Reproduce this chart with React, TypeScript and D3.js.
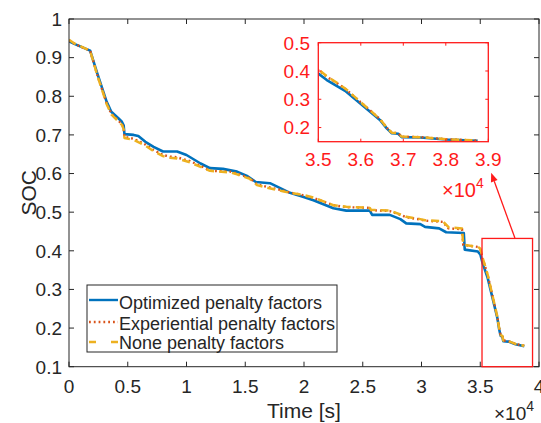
import React from "react";
import * as d3 from "d3";

const timeBlue = [0, 500, 1800, 2400, 3200, 3600, 4200, 4500, 4650, 4720, 5500, 5900, 6500, 7200, 8000, 9200, 10000, 11200, 12000, 13100, 14300, 15200, 15900, 17100, 18200, 18800, 19900, 20800, 22500, 23600, 25600, 25800, 27300, 28200, 28700, 29900, 30300, 31500, 32100, 33600, 33680, 34800, 35000, 35200, 35470, 35630, 36450, 36610, 36730, 36880, 36960, 37400, 38000, 38750];
const socBlue = [0.942, 0.935, 0.918, 0.86, 0.786, 0.76, 0.743, 0.734, 0.725, 0.702, 0.7, 0.697, 0.682, 0.669, 0.657, 0.657, 0.648, 0.626, 0.614, 0.612, 0.605, 0.593, 0.578, 0.575, 0.559, 0.55, 0.54, 0.531, 0.51, 0.504, 0.504, 0.493, 0.493, 0.482, 0.471, 0.469, 0.462, 0.458, 0.448, 0.446, 0.403, 0.398, 0.391, 0.368, 0.344, 0.33, 0.227, 0.197, 0.18, 0.178, 0.166, 0.165, 0.158, 0.153];

const timeOrange = [0, 500, 1800, 2400, 3200, 3600, 4200, 4500, 4650, 4720, 5500, 6500, 7200, 8000, 8600, 9200, 10300, 11200, 12000, 13700, 14300, 15400, 16000, 16800, 18200, 18800, 19900, 20800, 22500, 23600, 25600, 25700, 27300, 28200, 28700, 29900, 30300, 31800, 32300, 33450, 33550, 34800, 35000, 35200, 35450, 35650, 36450, 36620, 36730, 36880, 36960, 37400, 38000, 38750];
const socOrange = [0.944, 0.935, 0.918, 0.856, 0.782, 0.755, 0.737, 0.728, 0.718, 0.695, 0.69, 0.675, 0.661, 0.648, 0.644, 0.642, 0.632, 0.62, 0.607, 0.605, 0.6, 0.588, 0.572, 0.566, 0.556, 0.551, 0.544, 0.537, 0.518, 0.513, 0.511, 0.505, 0.503, 0.493, 0.487, 0.481, 0.478, 0.475, 0.458, 0.456, 0.415, 0.41, 0.404, 0.38, 0.356, 0.335, 0.23, 0.198, 0.182, 0.18, 0.168, 0.166, 0.159, 0.154];

const timeYellow = [0, 500, 1800, 2400, 3200, 3600, 4200, 4500, 4650, 4720, 5500, 6500, 7200, 8000, 8600, 9200, 10300, 11200, 12000, 13700, 14300, 15400, 16000, 16800, 18200, 18800, 19900, 20800, 22500, 23600, 25600, 25700, 27300, 28200, 28700, 29900, 30300, 31800, 32300, 33450, 33550, 34800, 35000, 35200, 35450, 35650, 36450, 36620, 36730, 36880, 36960, 37400, 38000, 38750];
const socYellow = [0.946, 0.936, 0.918, 0.855, 0.78, 0.753, 0.735, 0.726, 0.715, 0.692, 0.687, 0.672, 0.658, 0.645, 0.641, 0.639, 0.629, 0.617, 0.607, 0.603, 0.598, 0.586, 0.57, 0.564, 0.554, 0.55, 0.545, 0.538, 0.518, 0.514, 0.511, 0.506, 0.504, 0.494, 0.488, 0.482, 0.479, 0.477, 0.461, 0.458, 0.416, 0.41, 0.406, 0.382, 0.357, 0.336, 0.23, 0.198, 0.182, 0.18, 0.168, 0.166, 0.159, 0.154];

const seriesNames = ["Optimized penalty factors", "Experiential penalty factors", "None penalty factors"];
const seriesColors = ["#0072BD", "#D95319", "#EDB120"];

const xTicks = [0, 5000, 10000, 15000, 20000, 25000, 30000, 35000, 40000];
const xTickLabels = ["0", "0.5", "1", "1.5", "2", "2.5", "3", "3.5", "4"];
const yTicks = [0.1, 0.2, 0.3, 0.4, 0.5, 0.6, 0.7, 0.8, 0.9, 1];
const yTickLabels = ["0.1", "0.2", "0.3", "0.4", "0.5", "0.6", "0.7", "0.8", "0.9", "1"];

const insetXTicks = [35000, 36000, 37000, 38000, 39000];
const insetXTickLabels = ["3.5", "3.6", "3.7", "3.8", "3.9"];
const insetYTicks = [0.2, 0.3, 0.4, 0.5];
const insetYTickLabels = ["0.2", "0.3", "0.4", "0.5"];

// zoom rectangle and arrow, in data units of the main axes
const zoomRect = [35150, 39450, 0.1, 0.432];
const arrowFrom = [37950, 0.433];
const arrowTo = [35930, 0.602];

const FONT = "'Liberation Sans', Arial, Helvetica, sans-serif";
const TXT = "#262626";
const RED = "#ff1a1a";

export default function App() {
  const W = 541, H = 423;
  const L = 69, R = 539, T = 19, B = 366.7;
  const x = d3.scaleLinear().domain([0, 40000]).range([L, R]);
  const y = d3.scaleLinear().domain([0.1, 1]).range([B, T]);

  const iL = 318.3, iR = 488.3, iT = 42.7, iB = 141.7;
  const ix = d3.scaleLinear().domain([35000, 39000]).range([iL, iR]);
  const iy = d3.scaleLinear().domain([0.15, 0.5]).range([iB, iT]);

  const series = [
    { t: timeBlue, s: socBlue, dash: undefined as string | undefined, w: 2.6 },
    { t: timeOrange, s: socOrange, dash: "1.8 3", w: 2.4 },
    { t: timeYellow, s: socYellow, dash: "8 5", w: 2.5 },
  ];

  const mainLine = d3.line<[number, number]>().x((d) => x(d[0])).y((d) => y(d[1]));
  const insetLine = d3.line<[number, number]>().x((d) => ix(d[0])).y((d) => iy(d[1]));
  const pts = (t: number[], s: number[]) => t.map((v, i) => [v, s[i]] as [number, number]);

  const tk = 5;
  const itk = 3;

  const ax1 = x(arrowFrom[0]), ay1 = y(arrowFrom[1]);
  const ax2 = x(arrowTo[0]), ay2 = y(arrowTo[1]);
  const ang = Math.atan2(ay2 - ay1, ax2 - ax1);
  const hl = 9, hw = 3.5;
  const hx = ax2 - hl * Math.cos(ang), hy = ay2 - hl * Math.sin(ang);
  const head = `M${ax2},${ay2}L${hx + hw * Math.sin(ang)},${hy - hw * Math.cos(ang)}L${hx - hw * Math.sin(ang)},${hy + hw * Math.cos(ang)}Z`;

  const legX = 87, legY = 285, legW = 250, legH = 67;
  const legRows = [300, 322, 342];
  const legBase = [309, 329.5, 349];

  return (
    <svg width={W} height={H} style={{ position: "absolute", left: 0, top: 0, background: "#fff" }} fontFamily={FONT}>
      <defs>
        <clipPath id="mainClip"><rect x={L} y={T} width={R - L} height={B - T} /></clipPath>
        <clipPath id="insetClip"><rect x={iL} y={iT} width={iR - iL} height={iB - iT} /></clipPath>
      </defs>
      <rect x={0} y={0} width={W} height={H} fill="#fff" />

      {/* main lines */}
      <g clipPath="url(#mainClip)">
        {series.map((sr, i) => (
          <path key={i} d={mainLine(pts(sr.t, sr.s)) || ""} fill="none" stroke={seriesColors[i]} strokeWidth={sr.w} strokeDasharray={sr.dash} strokeLinejoin="round" />
        ))}
      </g>

      {/* main axes box */}
      <rect x={L} y={T} width={R - L} height={B - T} fill="none" stroke="#262626" strokeWidth={1} />
      {xTicks.map((v, i) => (
        <g key={"xt" + i}>
          <line x1={x(v)} x2={x(v)} y1={B} y2={B - tk} stroke="#262626" />
          <line x1={x(v)} x2={x(v)} y1={T} y2={T + tk} stroke="#262626" />
          <text x={x(v)} y={393} fontSize={19} textAnchor="middle" fill={TXT}>{xTickLabels[i]}</text>
        </g>
      ))}
      {yTicks.map((v, i) => (
        <g key={"yt" + i}>
          <line x1={L} x2={L + tk} y1={y(v)} y2={y(v)} stroke="#262626" />
          <line x1={R} x2={R - tk} y1={y(v)} y2={y(v)} stroke="#262626" />
          <text x={62} y={y(v) + 6.8} fontSize={19} textAnchor="end" fill={TXT}>{yTickLabels[i]}</text>
        </g>
      ))}
      <text x={(L + R) / 2} y={418} fontSize={21} textAnchor="middle" fill={TXT}>Time [s]</text>
      <text transform={`translate(36,${(T + B) / 2}) rotate(-90)`} fontSize={21} textAnchor="middle" fill={TXT}>SOC</text>
      <text x={494} y={420} fontSize={19} fill={TXT}>
        <tspan>×10</tspan><tspan fontSize={14} dy={-9}>4</tspan>
      </text>

      {/* zoom rectangle and arrow */}
      <rect x={x(zoomRect[0])} y={y(zoomRect[3])} width={x(zoomRect[1]) - x(zoomRect[0])} height={y(zoomRect[2]) - y(zoomRect[3])} fill="none" stroke={RED} strokeWidth={1.3} />
      <line x1={ax1} y1={ay1} x2={hx} y2={hy} stroke={RED} strokeWidth={1.3} />
      <path d={head} fill={RED} />

      {/* legend */}
      <rect x={legX} y={legY} width={legW} height={legH} fill="#fff" stroke="#262626" strokeWidth={1} />
      {seriesNames.map((n, i) => (
        <g key={"lg" + i}>
          <line x1={89} x2={118} y1={legRows[i]} y2={legRows[i]} stroke={seriesColors[i]} strokeWidth={2.4} strokeDasharray={i === 0 ? undefined : i === 1 ? "1.8 3" : "7 15"} />
          <text x={119} y={legBase[i]} fontSize={18} fill={TXT}>{n}</text>
        </g>
      ))}

      {/* inset */}
      <rect x={iL} y={iT} width={iR - iL} height={iB - iT} fill="#fff" />
      <g clipPath="url(#insetClip)">
        {series.map((sr, i) => (
          <path key={i} d={insetLine(pts(sr.t, sr.s)) || ""} fill="none" stroke={seriesColors[i]} strokeWidth={sr.w} strokeDasharray={sr.dash} strokeLinejoin="round" />
        ))}
      </g>
      <rect x={iL} y={iT} width={iR - iL} height={iB - iT} fill="none" stroke={RED} strokeWidth={1.3} />
      {insetXTicks.map((v, i) => (
        <g key={"ixt" + i}>
          <line x1={ix(v)} x2={ix(v)} y1={iB} y2={iB - itk} stroke={RED} />
          <line x1={ix(v)} x2={ix(v)} y1={iT} y2={iT + itk} stroke={RED} />
          <text x={ix(v)} y={166} fontSize={19} textAnchor="middle" fill={RED}>{insetXTickLabels[i]}</text>
        </g>
      ))}
      {insetYTicks.map((v, i) => (
        <g key={"iyt" + i}>
          <line x1={iL} x2={iL + itk} y1={iy(v)} y2={iy(v)} stroke={RED} />
          <line x1={iR} x2={iR - itk} y1={iy(v)} y2={iy(v)} stroke={RED} />
          <text x={310} y={iy(v) + 6.8} fontSize={19} textAnchor="end" fill={RED}>{insetYTickLabels[i]}</text>
        </g>
      ))}
      <text x={442} y={197} fontSize={20} fill={RED}>
        <tspan>×10</tspan><tspan fontSize={14} dy={-9}>4</tspan>
      </text>
    </svg>
  );
}
